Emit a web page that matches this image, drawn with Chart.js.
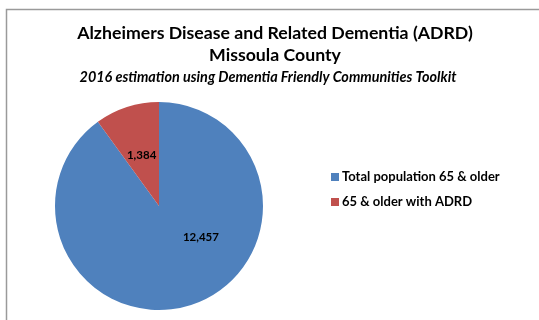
<!DOCTYPE html>
<html><head><meta charset="utf-8">
<script src="https://cdn.jsdelivr.net/npm/chart.js@4"></script>
<style>html,body{margin:0;padding:0;background:#fff}#wrap{position:relative;width:539px;height:320px}</style>
</head><body><div id="wrap"><canvas id="c" width="539" height="320"></canvas></div>
<script>
const titleLines = ["Alzheimers Disease and Related Dementia (ADRD)", "Missoula County"];
const subtitleText = "2016 estimation using Dementia Friendly Communities Toolkit";
const categories = ["Total population 65 & older", "65 & older with ADRD"];
const values = [12457, 1384];
const colors = ["#4F81BD", "#C0504D"];
const FONT = "Lato, 'Liberation Sans', sans-serif";

const framePlugin = {
  id: 'frame',
  beforeDraw(chart) {
    const ctx = chart.ctx;
    ctx.save();
    ctx.strokeStyle = '#9a9a9a';
    ctx.lineWidth = 1.5;
    ctx.strokeRect(6.5, 9.5, 600, 400);
    ctx.restore();
  }
};
const titlePlugin = {
  id: 'titles',
  afterDraw(chart) {
    const ctx = chart.ctx;
    ctx.save();
    ctx.fillStyle = '#000';
    ctx.textAlign = 'center';
    ctx.textBaseline = 'middle';
    ctx.font = "bold 17.7px " + FONT;
    ctx.fillText(titleLines[0], 275, 33);
    ctx.fillText(titleLines[1], 275, 55);
    ctx.font = "italic bold 14.4px " + FONT;
    ctx.fillText(subtitleText, 268, 77);
    ctx.restore();
  }
};
// label placement: angle (deg, clockwise from 3 o'clock) override for the big slice, like Excel best-fit
const labelPlugin = {
  id: 'sliceLabels',
  afterDatasetsDraw(chart, args, opts) {
    const ctx = chart.ctx;
    const meta = chart.getDatasetMeta(0);
    ctx.save();
    ctx.font = "bold 11.5px " + FONT;
    ctx.fillStyle = '#000';
    ctx.textAlign = 'center';
    ctx.textBaseline = 'middle';
    meta.data.forEach((arc, i) => {
      const pr = arc.getProps(['x', 'y', 'startAngle', 'endAngle', 'outerRadius']);
      let a = (pr.startAngle + pr.endAngle) / 2;
      if (opts.angles && opts.angles[i] != null) a = opts.angles[i] * Math.PI / 180;
      const r = pr.outerRadius * 0.51;
      ctx.fillText(values[i].toLocaleString('en-US'), pr.x + Math.cos(a) * r - 1, pr.y + Math.sin(a) * r);
    });
    ctx.restore();
  }
};
const legendPlugin = {
  id: 'sideLegend',
  afterDraw(chart) {
    const ctx = chart.ctx;
    ctx.save();
    ctx.font = "bold 13px " + FONT;
    ctx.textBaseline = 'middle';
    ctx.textAlign = 'left';
    chart.data.labels.forEach((lab, i) => {
      const y = 177 + i * 25;
      ctx.fillStyle = chart.data.datasets[0].backgroundColor[i];
      ctx.fillRect(331, y - 4, 8, 8);
      ctx.fillStyle = '#000';
      ctx.fillText(lab, 342, y);
    });
    ctx.restore();
  }
};

new Chart(document.getElementById('c'), {
  type: 'pie',
  data: {
    labels: categories,
    datasets: [{ data: values, backgroundColor: colors, borderWidth: 0 }]
  },
  options: {
    responsive: false,
    animation: false,
    layout: { padding: { left: 55, right: 276, top: 102, bottom: 10 } },
    plugins: {
      legend: { display: false },
      tooltip: { enabled: false },
      title: { display: false },
      subtitle: { display: false },
      sliceLabels: { angles: [36, null] }
    }
  },
  plugins: [framePlugin, titlePlugin, labelPlugin, legendPlugin]
});
</script></body></html>
